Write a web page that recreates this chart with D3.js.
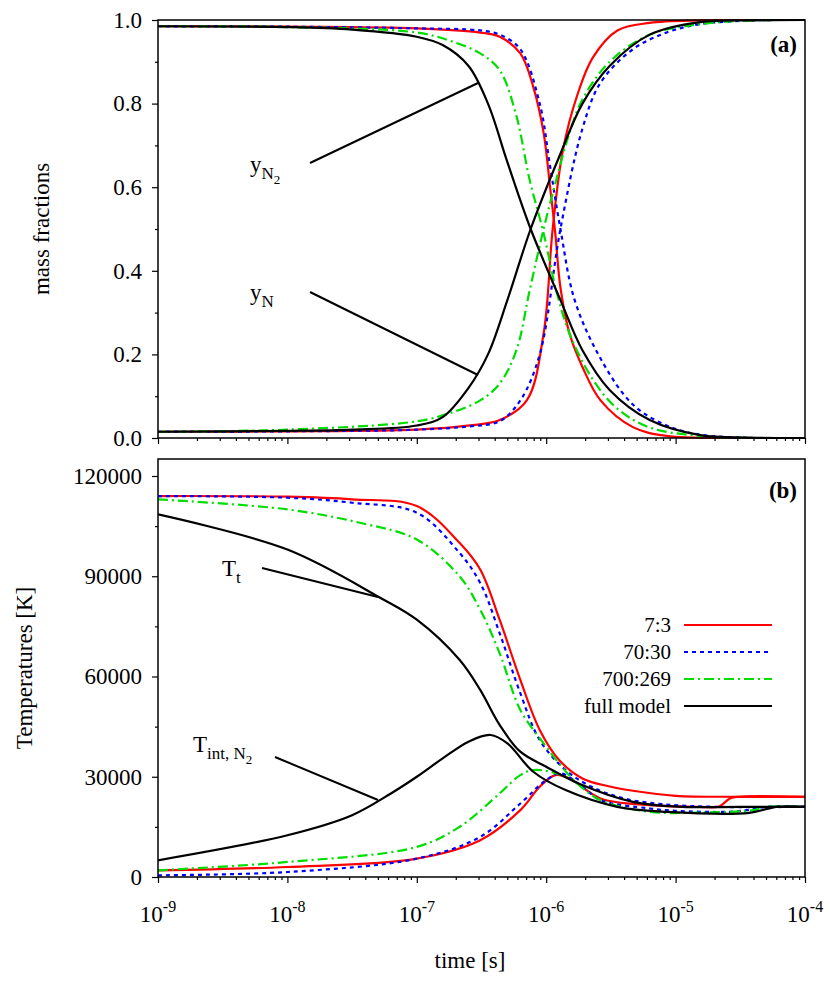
<!DOCTYPE html>
<html><head><meta charset="utf-8">
<script src="https://cdn.jsdelivr.net/npm/d3@7"></script>
<style>body{margin:0;background:#fff}svg text{font-family:"Liberation Serif","Times New Roman","DejaVu Serif",serif !important}</style>
</head><body><svg id="c" width="830" height="997"></svg>
<script>
// ---- data (log10 of time in s, value) ----
const seriesNames = ["7:3","70:30","700:269","full model"];
const seriesColors = ["#ff0000","#0000ff","#00dd00","#000000"];
const seriesDash = [null,"4,4","10,4,2,4",null];

// panel (a): mass fractions
const yN2_red = [[-9,0.985],[-8,0.984],[-7,0.98],[-6.51,0.97],[-6.36,0.96],[-6.2,0.92],[-6.1,0.84],[-6.02,0.73],[-5.97,0.6],[-5.93,0.49],[-5.89,0.36],[-5.82,0.25],[-5.72,0.17],[-5.58,0.09],[-5.33,0.026],[-5.07,0.005],[-4.5,0.0],[-4,0]];
const yN_red  = [[-9,0.015],[-8,0.016],[-7,0.02],[-6.59,0.03],[-6.36,0.043],[-6.15,0.09],[-6.02,0.25],[-5.95,0.5],[-5.87,0.69],[-5.76,0.82],[-5.64,0.91],[-5.45,0.975],[-5.2,0.993],[-4.8,0.999],[-4,1.0]];
const yN2_blue = [[-9,0.985],[-8,0.984],[-7,0.98],[-6.51,0.975],[-6.36,0.965],[-6.2,0.93],[-6.05,0.8],[-5.97,0.65],[-5.89,0.5],[-5.78,0.33],[-5.58,0.19],[-5.33,0.08],[-5.07,0.03],[-4.81,0.008],[-4.4,0.0],[-4,0]];
const yN_blue  = [[-9,0.015],[-8,0.016],[-7,0.02],[-6.59,0.028],[-6.36,0.04],[-6.2,0.09],[-6.05,0.2],[-5.89,0.5],[-5.72,0.74],[-5.58,0.85],[-5.33,0.93],[-5.07,0.97],[-4.81,0.99],[-4.4,0.999],[-4,1.0]];
const yN2_green = [[-9,0.985],[-8,0.983],[-7,0.97],[-6.74,0.95],[-6.51,0.92],[-6.36,0.88],[-6.23,0.77],[-6.13,0.62],[-6.02,0.49],[-5.92,0.35],[-5.82,0.25],[-5.64,0.14],[-5.45,0.07],[-5.2,0.025],[-4.81,0.005],[-4.4,0.0],[-4,0]];
const yN_green  = [[-9,0.015],[-8,0.02],[-7,0.04],[-6.74,0.06],[-6.51,0.09],[-6.36,0.13],[-6.23,0.21],[-6.13,0.35],[-6.02,0.5],[-5.92,0.62],[-5.82,0.73],[-5.72,0.81],[-5.51,0.9],[-5.2,0.965],[-4.81,0.99],[-4.4,0.999],[-4,1.0]];
const yN2_full = [[-9,0.985],[-8,0.983],[-7.5,0.977],[-7,0.96],[-6.8,0.94],[-6.6,0.89],[-6.45,0.8],[-6.3,0.66],[-6.12,0.5],[-5.89,0.33],[-5.72,0.21],[-5.51,0.115],[-5.2,0.043],[-4.81,0.007],[-4.43,0.001],[-4,0]];
const yN_full  = [[-9,0.015],[-8,0.017],[-7.5,0.02],[-7,0.03],[-6.8,0.05],[-6.6,0.12],[-6.45,0.2],[-6.3,0.33],[-6.12,0.5],[-5.89,0.68],[-5.72,0.8],[-5.51,0.89],[-5.2,0.965],[-4.81,0.995],[-4.4,0.999],[-4,1.0]];

// panel (b): temperatures [K]
const Tt_red = [[-9,114000],[-8,113800],[-7.5,113000],[-7,111000],[-6.67,100000],[-6.51,92000],[-6.36,77000],[-6.2,59000],[-6.05,44000],[-5.9,35000],[-5.72,29500],[-5.5,27000],[-5.33,25800],[-5,24300],[-4.5,24000],[-4,24000]];
const Tint_red = [[-9,2000],[-8,3000],[-7,5500],[-6.51,11000],[-6.2,20000],[-6.05,27000],[-5.93,30500],[-5.82,29500],[-5.58,23500],[-5.2,21500],[-4.81,21000],[-4.67,21000],[-4.58,23500],[-4.52,24000],[-4,24000]];
const Tt_blue = [[-9,114000],[-8,113500],[-7.5,112000],[-7,109000],[-6.67,97000],[-6.51,88000],[-6.36,73000],[-6.2,55000],[-6.05,41000],[-5.85,32000],[-5.65,27000],[-5.4,23500],[-5.1,21800],[-4.7,21000],[-4,21000]];
const Tint_blue = [[-9,500],[-8,1500],[-7,5500],[-6.51,12000],[-6.2,22000],[-6,29000],[-5.89,31000],[-5.72,27000],[-5.58,23000],[-5.2,20500],[-5,19800],[-4.6,19500],[-4.45,20000],[-4.3,21000],[-4,21000]];
const Tt_green = [[-9,113000],[-8,110000],[-7.44,106000],[-7,101000],[-6.67,90000],[-6.51,80000],[-6.36,67000],[-6.2,50000],[-6.02,40000],[-5.89,33500],[-5.76,28000],[-5.58,23000],[-5.2,19500],[-4.81,19300],[-4.4,20000],[-4.3,21000],[-4,21000]];
const Tint_green = [[-9,2000],[-8,4500],[-7,9000],[-6.67,15000],[-6.36,25000],[-6.2,30500],[-6.1,32000],[-5.97,31500],[-5.85,30000],[-5.76,28000]];
const Tt_full = [[-9,108500],[-8,98000],[-7.28,83500],[-7,77000],[-6.67,65000],[-6.51,56000],[-6.36,45500],[-6.2,37500],[-6.0,33000],[-5.75,28000],[-5.33,22500],[-4.95,21000],[-4.5,21000],[-4,21000]];
const Tint_full = [[-9,5000],[-8,12500],[-7.5,18500],[-7.2,25000],[-7,30000],[-6.8,35500],[-6.6,40500],[-6.43,42500],[-6.3,40000],[-6.1,31500],[-5.85,26000],[-5.45,21000],[-5.07,19500],[-4.43,19200],[-4.22,21000],[-4,21000]];

const yTicksA = [0,0.2,0.4,0.6,0.8,1.0];
const yTicksB = [0,30000,60000,90000,120000];
const xDecades = [-9,-8,-7,-6,-5,-4];

// ---- drawing ----
const svg = d3.select("#c");
const L=158,R=805;
const x = d3.scaleLog().domain([1e-9,1e-4]).range([L,R]);
const yA = d3.scaleLinear().domain([0,1]).range([438,20]);
const yB = d3.scaleLinear().domain([0,120000]).range([877,476]);
const bTop = 459;

function lineGen(y){return d3.line().x(d=>x(Math.pow(10,d[0]))).y(d=>y(d[1])).curve(d3.curveCatmullRom.alpha(0.5));}
function drawSeries(g,data,i,y){
  g.append("path").datum(data).attr("d",lineGen(y)).attr("fill","none")
   .attr("stroke",seriesColors[i]).attr("stroke-width",2.2)
   .attr("stroke-dasharray",seriesDash[i]);
}
svg.append("clipPath").attr("id","ca").append("rect").attr("x",L).attr("y",19).attr("width",R-L).attr("height",420);
svg.append("clipPath").attr("id","cb").append("rect").attr("x",L).attr("y",bTop).attr("width",R-L).attr("height",877-bTop);
const gA = svg.append("g").attr("clip-path","url(#ca)");
const gB = svg.append("g").attr("clip-path","url(#cb)");
[[yN2_red,yN_red],[yN2_blue,yN_blue],[yN2_green,yN_green],[yN2_full,yN_full]].forEach((p,i)=>{drawSeries(gA,p[0],i,yA);drawSeries(gA,p[1],i,yA);});
[[Tt_red,Tint_red],[Tt_blue,Tint_blue],[Tt_green,Tint_green],[Tt_full,Tint_full]].forEach((p,i)=>{drawSeries(gB,p[0],i,yB);drawSeries(gB,p[1],i,yB);});

// frames
svg.append("rect").attr("x",L).attr("y",20).attr("width",R-L).attr("height",418).attr("fill","none").attr("stroke","#000").attr("stroke-width",1.5);
svg.append("rect").attr("x",L).attr("y",bTop).attr("width",R-L).attr("height",877-bTop).attr("fill","none").attr("stroke","#000").attr("stroke-width",1.5);

// axes
const FS=23;
svg.append("g").attr("transform",`translate(${L},0)`).call(d3.axisLeft(yA).tickValues(yTicksA).tickFormat(d3.format(".1f")).tickSize(6).tickPadding(10));
svg.append("g").attr("transform",`translate(${L},0)`).call(d3.axisLeft(yA).tickValues(d3.range(0.1,1,0.2)).tickFormat("").tickSize(3));
svg.append("g").attr("transform",`translate(${L},0)`).call(d3.axisLeft(yB).tickValues(yTicksB).tickFormat(d3.format("d")).tickSize(6).tickPadding(10));
svg.append("g").attr("transform",`translate(${L},0)`).call(d3.axisLeft(yB).tickValues([15000,45000,75000,105000]).tickFormat("").tickSize(3));
const minor=[];xDecades.slice(0,-1).forEach(e=>{for(let k=2;k<10;k++)minor.push(k*Math.pow(10,e));});
[438,877].forEach(yy=>{
  svg.append("g").attr("transform",`translate(0,${yy})`).call(d3.axisBottom(x).tickValues(xDecades.map(e=>Math.pow(10,e))).tickFormat("").tickSize(6));
  svg.append("g").attr("transform",`translate(0,${yy})`).call(d3.axisBottom(x).tickValues(minor).tickFormat("").tickSize(3));
});
svg.selectAll(".domain").remove();
svg.selectAll("g").attr("font-family",null);
svg.selectAll(".tick text").attr("font-size",FS);
svg.selectAll(".tick line").attr("stroke-width",1.2);

// x labels
xDecades.forEach(e=>{
  const t=svg.append("text").attr("x",x(Math.pow(10,e))).attr("y",922).attr("text-anchor","middle").attr("font-size",FS);
  t.append("tspan").text("10");
  t.append("tspan").attr("dy",-10).attr("font-size",16).text(String(e));
});
svg.append("text").attr("x",470).attr("y",968).attr("text-anchor","middle").attr("font-size",FS).text("time [s]");
svg.append("text").attr("transform","translate(49,229) rotate(-90)").attr("text-anchor","middle").attr("font-size",FS).text("mass fractions");
svg.append("text").attr("transform","translate(32,668) rotate(-90)").attr("text-anchor","middle").attr("font-size",FS).text("Temperatures [K]");
svg.append("text").attr("x",797).attr("y",52).attr("text-anchor","end").attr("font-size",FS).attr("font-weight","bold").text("(a)");
svg.append("text").attr("x",797).attr("y",498).attr("text-anchor","end").attr("font-size",FS).attr("font-weight","bold").text("(b)");

// annotations
function lbl(tx,ty,main,sub,sub2){
  const t=svg.append("text").attr("x",tx).attr("y",ty).attr("font-size",FS);
  t.append("tspan").text(main);
  t.append("tspan").attr("dy",7).attr("font-size",17).text(sub);
  if(sub2) t.append("tspan").attr("dy",5).attr("font-size",13).text(sub2);
}
function seg(x1,y1,x2,y2){svg.append("line").attr("x1",x1).attr("y1",y1).attr("x2",x2).attr("y2",y2).attr("stroke","#000").attr("stroke-width",2);}
lbl(250,172,"y","N","2"); seg(310,163,478,83);
lbl(250,300,"y","N"); seg(310,292,478,375);
lbl(222,576,"T","t"); seg(262,568,378,597);
lbl(193,752,"T","int, N","2"); seg(275,757,378,800);

// legend
seriesNames.forEach((n,i)=>{
  const yy=625+i*27;
  svg.append("text").attr("x",671).attr("y",yy+7).attr("text-anchor","end").attr("font-size",21).text(n);
  svg.append("line").attr("x1",684).attr("x2",772).attr("y1",yy).attr("y2",yy).attr("stroke",seriesColors[i]).attr("stroke-width",2.2).attr("stroke-dasharray",seriesDash[i]);
});
</script></body></html>
